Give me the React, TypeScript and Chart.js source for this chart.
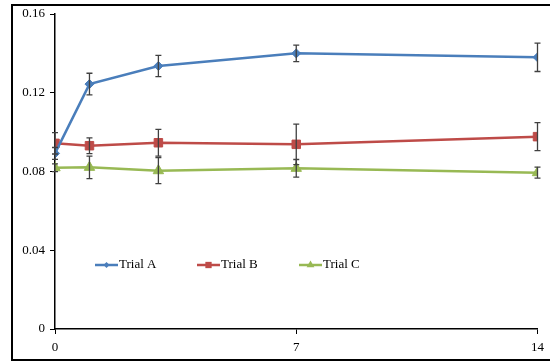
import React, { useEffect, useRef } from "react";
import { Chart, registerables } from "chart.js";

Chart.register(...registerables);

const days = [0, 1, 3, 7, 14];
const xTicks = [0, 7, 14];
const yTicks = [0, 0.04, 0.08, 0.12, 0.16];
const seriesNames = ["Trial A", "Trial B", "Trial C"];
const trialA = [0.0892, 0.1244, 0.1336, 0.140, 0.138];
const trialB = [0.0943, 0.0931, 0.0946, 0.0938, 0.0977];
const trialC = [0.0819, 0.0821, 0.0804, 0.0816, 0.0794];
const errA = [0.003, 0.0055, 0.0054, 0.0042, 0.0072];
const errB = [0.0054, 0.004, 0.0068, 0.0103, 0.0071];
const errC = [0.002, 0.0057, 0.0066, 0.0045, 0.0028];

const colors = ["#4A7EBB", "#BE4B48", "#98B954"];
const styles = ["rectRot", "rect", "triangle"];
const radii = [4.5, 6, 6];
const FONT = "'Liberation Serif', 'DejaVu Serif', serif";

function marker(ctx: CanvasRenderingContext2D, style: string, x: number, y: number, r: number, color: string) {
  ctx.fillStyle = color;
  ctx.beginPath();
  if (style === "rectRot") {
    ctx.moveTo(x, y - r);
    ctx.lineTo(x + r, y);
    ctx.lineTo(x, y + r);
    ctx.lineTo(x - r, y);
  } else if (style === "rect") {
    ctx.rect(x - r * 0.7, y - r * 0.7, r * 1.4, r * 1.4);
  } else {
    ctx.moveTo(x, y - r);
    ctx.lineTo(x + r * 0.87, y + r * 0.5);
    ctx.lineTo(x - r * 0.87, y + r * 0.5);
  }
  ctx.closePath();
  ctx.fill();
}

export default function App() {
  const ref = useRef<HTMLCanvasElement>(null);
  useEffect(() => {
    document.body.style.margin = "0";
    const errs = [errA, errB, errC];
    const vals = [trialA, trialB, trialC];
    const frame = {
      id: "frame",
      beforeDraw(chart: any) {
        const ctx = chart.ctx;
        ctx.save();
        ctx.fillStyle = "#ffffff";
        ctx.fillRect(0, 0, chart.width, chart.height);
        ctx.strokeStyle = "#000";
        ctx.lineWidth = 2;
        ctx.beginPath();
        ctx.moveTo(560, 5);
        ctx.lineTo(12, 5);
        ctx.lineTo(12, 360);
        ctx.lineTo(560, 360);
        ctx.stroke();
        ctx.restore();
      },
    };
    const errorBars = {
      id: "errorBars",
      afterDatasetsDraw(chart: any) {
        const ctx = chart.ctx;
        const xs = chart.scales.x;
        const ys = chart.scales.y;
        ctx.save();
        ctx.strokeStyle = "#404040";
        ctx.lineWidth = 1.3;
        vals.forEach((arr, si) => {
          arr.forEach((v, i) => {
            const x = xs.getPixelForValue(days[i]);
            const y1 = ys.getPixelForValue(v + errs[si][i]);
            const y2 = ys.getPixelForValue(v - errs[si][i]);
            ctx.beginPath();
            ctx.moveTo(x, y1);
            ctx.lineTo(x, y2);
            ctx.moveTo(x - 3, y1);
            ctx.lineTo(x + 3, y1);
            ctx.moveTo(x - 3, y2);
            ctx.lineTo(x + 3, y2);
            ctx.stroke();
          });
        });
        ctx.restore();
      },
    };
    const legend = {
      id: "customLegend",
      afterDraw(chart: any) {
        const ctx = chart.ctx;
        const y = 265;
        const starts = [95, 197, 299];
        ctx.save();
        seriesNames.forEach((name, i) => {
          const x0 = starts[i];
          ctx.strokeStyle = colors[i];
          ctx.lineWidth = 2.5;
          ctx.beginPath();
          ctx.moveTo(x0, y);
          ctx.lineTo(x0 + 23, y);
          ctx.stroke();
          marker(ctx, styles[i], x0 + 11.5, y, radii[i] - 1.5, colors[i]);
          ctx.fillStyle = "#000";
          ctx.font = "13px " + FONT;
          ctx.textBaseline = "middle";
          ctx.textAlign = "left";
          ctx.fillText(name, x0 + 24, y);
        });
        ctx.restore();
      },
    };
    const chart = new Chart(ref.current!, {
      type: "line",
      data: {
        datasets: vals.map((arr, i) => ({
          label: seriesNames[i],
          data: arr.map((v, j) => ({ x: days[j], y: v })),
          borderColor: colors[i],
          backgroundColor: colors[i],
          borderWidth: 2.5,
          pointStyle: styles[i] as any,
          pointRadius: radii[i],
          pointBorderWidth: 1,
          tension: 0,
        })),
      },
      options: {
        animation: false,
        responsive: false,
        layout: { padding: { top: 14, right: 8, left: 0, bottom: 0 } },
        plugins: { legend: { display: false }, tooltip: { enabled: false } },
        scales: {
          x: {
            type: "linear",
            min: 0,
            max: 14,
            afterBuildTicks: (s: any) => {
              s.ticks = xTicks.map((v) => ({ value: v }));
            },
            afterFit: (s: any) => {
              s.height = 34;
            },
            border: { color: "#000", width: 1.5 },
            grid: { drawOnChartArea: false, tickLength: 5, color: "#000" },
            ticks: {
              color: "#000",
              font: { family: FONT, size: 13 },
              padding: 6,
              maxRotation: 0,
            },
          },
          y: {
            min: 0,
            max: 0.16,
            afterBuildTicks: (s: any) => {
              s.ticks = yTicks.map((v) => ({ value: v }));
            },
            afterFit: (s: any) => {
              s.width = 55;
            },
            border: { color: "#000", width: 1.5 },
            grid: { drawOnChartArea: false, tickLength: 5, color: "#000" },
            ticks: {
              color: "#000",
              font: { family: FONT, size: 13 },
              padding: 5,
              callback: (v: any) => String(Math.round(Number(v) * 100) / 100),
            },
          },
        },
      },
      plugins: [frame, errorBars, legend],
    });
    return () => chart.destroy();
  }, []);
  return (
    <div style={{ position: "absolute", left: 0, top: 0, width: 550, height: 363 }}>
      <canvas ref={ref} width={550} height={363} />
    </div>
  );
}
